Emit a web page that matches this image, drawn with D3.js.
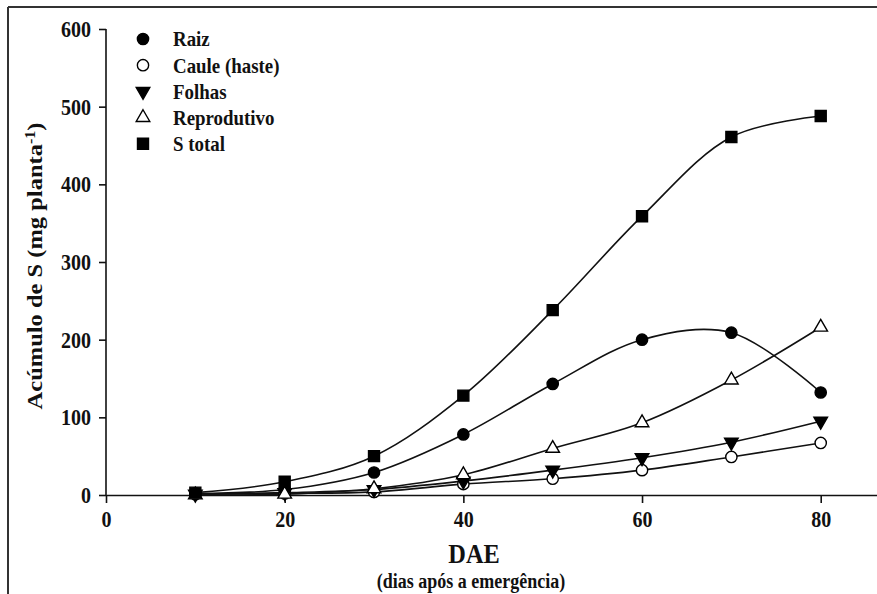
<!DOCTYPE html>
<html>
<head>
<meta charset="utf-8">
<script src="https://cdn.jsdelivr.net/npm/d3@7"></script>
<style>
  body { margin: 0; background: #fff; }
  svg text { font-family: "Liberation Serif", "Times New Roman", serif; font-weight: bold; fill: #111; }
</style>
</head>
<body>
<svg id="chart"></svg>
<script>
// days after emergence
const dae = [10, 20, 30, 40, 50, 60, 70, 80];

// S accumulation (mg planta-1)
const raiz = [2, 7, 29, 78, 143, 200, 209, 132];
const caule = [1, 2, 4, 14, 21, 32, 49, 67];
const folhas = [1, 3, 7, 18, 32, 48, 68, 95];
const reprodutivo = [0, 1, 8, 26, 60, 93, 148, 216];
const sTotal = [3, 17, 50, 128, 238, 359, 461, 488];

const xTicks = [0, 20, 40, 60, 80];
const yTicks = [0, 100, 200, 300, 400, 500, 600];

const series = [
    { name: 'Raiz', values: raiz, symbol: d3.symbolCircle, size: 100, fill: '#000' },
    { name: 'Caule (haste)', values: caule, symbol: d3.symbolCircle, size: 100, fill: '#fff' },
    { name: 'Folhas', values: folhas, symbol: d3.symbolTriangle, size: 80, fill: '#000', rotate: 180 },
    { name: 'Reprodutivo', values: reprodutivo, symbol: d3.symbolTriangle, size: 80, fill: '#fff' },
    { name: 'S total', values: sTotal, symbol: d3.symbolSquare, size: 121, fill: '#000' }
];

const width = 877, height = 594;
const squeeze = 0.87; // glyphs in the picture are narrow and tall
const svg = d3.select('#chart').attr('width', width).attr('height', height);

// outer frame (only top and left edges are visible)
svg.append('line').attr('x1', 8).attr('x2', width).attr('y1', 7).attr('y2', 7)
    .attr('stroke', '#333').attr('stroke-width', 2);
svg.append('line').attr('x1', 8).attr('x2', 8).attr('y1', 7).attr('y2', height)
    .attr('stroke', '#333').attr('stroke-width', 2);

const x = d3.scaleLinear().domain([0, 86.3]).range([106, 877]);
const y = d3.scaleLinear().domain([0, 600]).range([495, 29]);

// axes
const xAxis = d3.axisBottom(x).tickValues(xTicks).tickSize(8).tickSizeOuter(0).tickPadding(8);
const yAxis = d3.axisLeft(y).tickValues(yTicks).tickSize(7).tickSizeOuter(0).tickPadding(8);

const xAxisG = svg.append('g').attr('transform', `translate(0,${y(0)})`).call(xAxis);
const yAxisG = svg.append('g').attr('transform', `translate(${x(0)},0)`).call(yAxis);

[xAxisG, yAxisG].forEach(g => {
    g.selectAll('path, line').attr('stroke', '#111').attr('stroke-width', 1.6);
    g.selectAll('text').style('font-size', '23px').attr('fill', '#111')
        .attr('transform', `scale(${squeeze},1)`);
});
yAxisG.selectAll('text').attr('x', -15 / squeeze);
// y axis domain line ends at the top tick
yAxisG.select('.domain').attr('d', `M0,${y(600)}V${y(0)}`);

// axis titles
svg.append('text')
    .attr('transform', `translate(474,563) scale(${squeeze},1)`)
    .attr('text-anchor', 'middle')
    .style('font-size', '28px')
    .text('DAE');
svg.append('text')
    .attr('transform', 'translate(471,588) scale(0.9,1)')
    .attr('text-anchor', 'middle')
    .style('font-size', '20px')
    .text('(dias após a emergência)');

const yLabel = svg.append('text')
    .attr('transform', `translate(42,266) rotate(-90) scale(1,${squeeze})`)
    .attr('text-anchor', 'middle')
    .style('font-size', '24.5px');
yLabel.append('tspan').text('Acúmulo de S (mg planta');
yLabel.append('tspan').attr('baseline-shift', 'super').style('font-size', '16px').text('-1');
yLabel.append('tspan').text(')');

// curves
const line = d3.line()
    .x((d, i) => x(dae[i]))
    .y(d => y(d))
    .curve(d3.curveCatmullRom.alpha(0.5));

svg.append('g').selectAll('path')
    .data(series)
    .join('path')
    .attr('d', d => line(d.values))
    .attr('fill', 'none')
    .attr('stroke', '#111')
    .attr('stroke-width', 1.6);

// markers
const marker = s => d3.symbol().type(s.symbol).size(s.size)();

series.forEach(s => {
    svg.append('g').selectAll('path')
        .data(s.values)
        .join('path')
        .attr('d', marker(s))
        .attr('transform', (d, i) => `translate(${x(dae[i])},${y(d)})` + (s.rotate ? ` rotate(${s.rotate})` : ''))
        .attr('fill', s.fill)
        .attr('stroke', '#000')
        .attr('stroke-width', 1.4);
});

// legend
const legend = svg.append('g').attr('transform', 'translate(143,39)');
const rows = legend.selectAll('g')
    .data(series)
    .join('g')
    .attr('transform', (d, i) => `translate(0,${i * 26.2})`);
rows.append('path')
    .attr('d', d => marker(d))
    .attr('transform', d => d.rotate ? `rotate(${d.rotate})` : null)
    .attr('fill', d => d.fill)
    .attr('stroke', '#000')
    .attr('stroke-width', 1.4);
rows.append('text')
    .attr('transform', 'translate(30,0) scale(0.9,1)')
    .attr('dy', '0.35em')
    .style('font-size', '21px')
    .text(d => d.name);
</script>
</body>
</html>
